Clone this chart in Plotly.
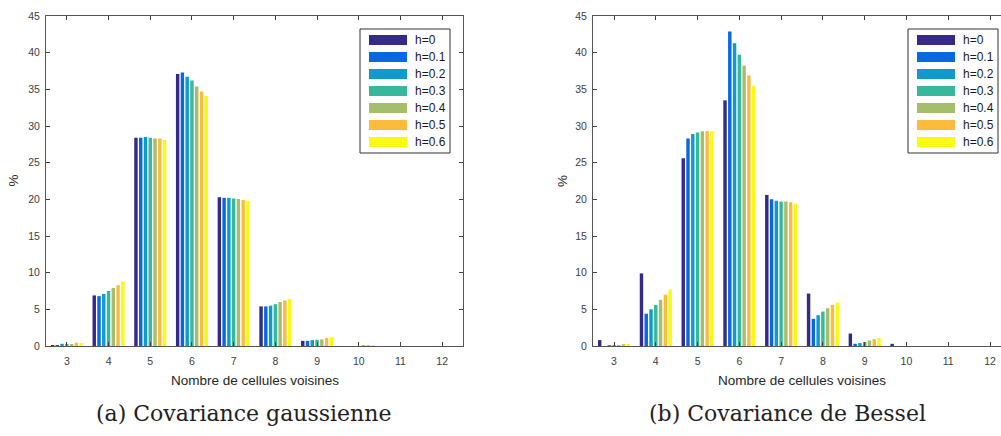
import plotly.graph_objects as go

W, H = 1001, 436

categories = [3, 4, 5, 6, 7, 8, 9, 10, 11, 12]
series_labels = ["h=0", "h=0.1", "h=0.2", "h=0.3", "h=0.4", "h=0.5", "h=0.6"]
colors = ["#352A87", "#0868DF", "#0C9ACF", "#37B89D", "#A5BE6B", "#FCBB3D", "#F9FB0E"]

# (a) Covariance gaussienne — % per number of neighbour cells, one list per h
gauss_h0 = [0.05, 6.9, 28.4, 37.1, 20.3, 5.4, 0.7, 0, 0, 0]
gauss_h01 = [0.1, 6.8, 28.4, 37.3, 20.2, 5.4, 0.7, 0, 0, 0]
gauss_h02 = [0.3, 7.1, 28.5, 36.7, 20.2, 5.5, 0.8, 0, 0, 0]
gauss_h03 = [0.2, 7.5, 28.4, 36.2, 20.1, 5.7, 0.85, 0, 0, 0]
gauss_h04 = [0.2, 7.9, 28.3, 35.4, 20.05, 6.0, 0.9, 0.02, 0, 0]
gauss_h05 = [0.45, 8.3, 28.3, 34.7, 19.9, 6.2, 1.1, 0.03, 0, 0]
gauss_h06 = [0.4, 8.8, 28.1, 34.1, 19.8, 6.4, 1.2, 0.08, 0, 0]

# (b) Covariance de Bessel
bessel_h0 = [0.8, 9.9, 25.6, 33.5, 20.6, 7.15, 1.7, 0.3, 0, 0]
bessel_h01 = [0.0, 4.4, 28.3, 42.9, 20.0, 3.7, 0.3, 0, 0, 0]
bessel_h02 = [0.05, 5.0, 28.9, 41.3, 19.8, 4.2, 0.4, 0, 0, 0]
bessel_h03 = [0.05, 5.6, 29.1, 39.7, 19.7, 4.7, 0.55, 0, 0, 0]
bessel_h04 = [0.1, 6.3, 29.3, 38.2, 19.7, 5.15, 0.75, 0, 0, 0]
bessel_h05 = [0.15, 7.0, 29.3, 36.9, 19.6, 5.6, 0.95, 0, 0, 0]
bessel_h06 = [0.2, 7.7, 29.3, 35.5, 19.4, 5.9, 1.1, 0, 0, 0]

gauss = [gauss_h0, gauss_h01, gauss_h02, gauss_h03, gauss_h04, gauss_h05, gauss_h06]
bessel = [bessel_h0, bessel_h01, bessel_h02, bessel_h03, bessel_h04, bessel_h05, bessel_h06]

x_tick_vals = [3, 4, 5, 6, 7, 8, 9, 10, 11, 12]
y_tick_vals = [0, 5, 10, 15, 20, 25, 30, 35, 40, 45]
x_title = "Nombre de cellules voisines"
y_title = "%"
captions = ["(a) Covariance gaussienne", "(b) Covariance de Bessel"]


def px(x):
    return x / W


def py(y):
    return 1 - y / H


fig = go.Figure()
for i, lab in enumerate(series_labels):
    fig.add_trace(go.Bar(x=categories, y=gauss[i], name=lab, marker_color=colors[i],
                         marker_line_width=0, xaxis="x", yaxis="y", showlegend=False))
for i, lab in enumerate(series_labels):
    fig.add_trace(go.Bar(x=categories, y=bessel[i], name=lab, marker_color=colors[i],
                         marker_line_width=0, xaxis="x2", yaxis="y2", showlegend=False))

tickfont = dict(family="Liberation Sans, Arial, sans-serif", size=10.5, color="#404040")
axis_common = dict(showgrid=False, zeroline=False, showline=True, linecolor="#555555",
                   linewidth=1, ticks="inside", ticklen=4, tickcolor="#404040",
                   tickfont=tickfont, automargin=False)

y_dom = [py(346), py(16)]
fig.update_layout(
    template="none",
    width=W, height=H, margin=dict(l=0, r=0, t=0, b=0, pad=0, autoexpand=False),
    paper_bgcolor="white", plot_bgcolor="white",
    barmode="group", bargap=0.2, bargroupgap=0.28,
    xaxis=dict(domain=[px(46), px(463)], range=[2.5, 12.5], tickvals=x_tick_vals,
               mirror="ticks", anchor="y", ticklabelstandoff=5, **axis_common),
    yaxis=dict(domain=y_dom, range=[0, 45], tickvals=y_tick_vals, mirror="ticks",
               anchor="x", ticklabelstandoff=3, **axis_common),
    xaxis2=dict(domain=[px(593), 1.0], range=[2.497, 12.263], tickvals=x_tick_vals,
                mirror="ticks", anchor="y2", ticklabelstandoff=5, **axis_common),
    yaxis2=dict(domain=y_dom, range=[0, 45], tickvals=y_tick_vals, mirror=False,
                anchor="x2", ticklabelstandoff=3, **axis_common),
)

annotations = []
shapes = []
sans = "Liberation Sans, Arial, sans-serif"
for cx, ylx in [(254.5, 12.5), (802, 562)]:
    annotations.append(dict(x=px(cx), y=py(380), xref="paper", yref="paper", text=x_title,
                            showarrow=False, xanchor="center", yanchor="middle",
                            font=dict(family=sans, size=13.5, color="#262626")))
    annotations.append(dict(x=px(ylx), y=py(181), xref="paper", yref="paper", text=y_title,
                            showarrow=False, textangle=-90, xanchor="center", yanchor="middle",
                            font=dict(family=sans, size=13.5, color="#262626")))

for cx, txt in [(243, captions[0]), (787, captions[1])]:
    annotations.append(dict(x=px(cx), y=py(413), xref="paper", yref="paper", text=txt,
                            showarrow=False, xanchor="center", yanchor="middle",
                            font=dict(family="DejaVu Serif, serif", size=22, color="#222222")))

# custom legends (wide swatches as in the original)
for lx in [360, 908]:
    shapes.append(dict(type="rect", xref="paper", yref="paper", x0=px(lx), x1=px(lx + 90),
                       y0=py(153), y1=py(29), line=dict(color="#333333", width=1),
                       fillcolor="white", layer="above"))
    for i, lab in enumerate(series_labels):
        cy = 40 + 17 * i
        shapes.append(dict(type="rect", xref="paper", yref="paper", x0=px(lx + 9), x1=px(lx + 47),
                           y0=py(cy + 5), y1=py(cy - 5), line=dict(width=0),
                           fillcolor=colors[i], layer="above"))
        annotations.append(dict(x=px(lx + 53), y=py(cy), xref="paper", yref="paper", text=lab,
                                showarrow=False, xanchor="left", yanchor="middle",
                                font=dict(family=sans, size=12, color="#1a1a1a")))

fig.update_layout(annotations=annotations, shapes=shapes)
fig.write_html("out.html", config={"displayModeBar": False},
               post_script="document.body.style.margin='0';document.body.style.padding='0';"
                           "document.body.style.overflow='hidden';")
